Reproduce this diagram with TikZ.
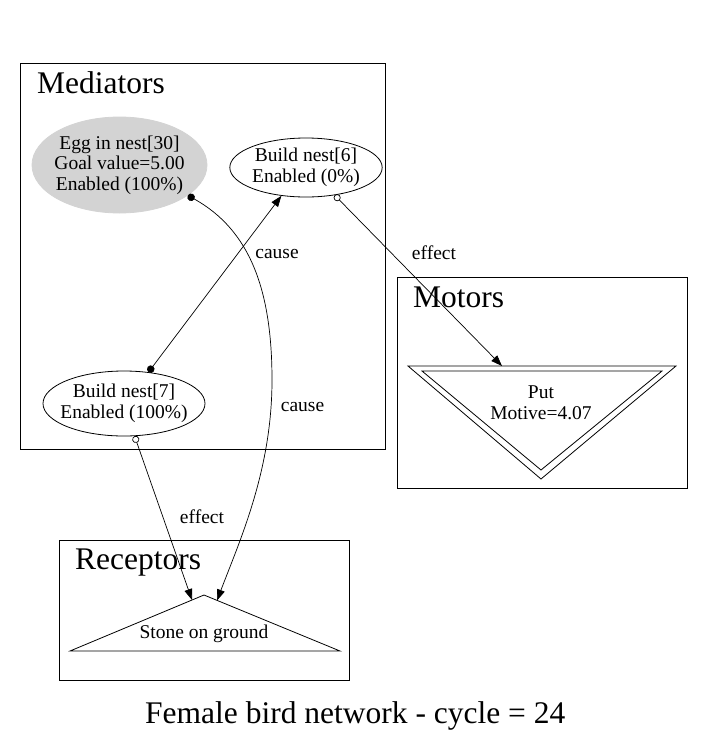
\documentclass[tikz,border=0pt]{standalone}
\usepackage{fontspec}
\setmainfont{Liberation Serif}
\usetikzlibrary{shapes.geometric,arrows.meta}

\definecolor{lightgrey}{RGB}{211,211,211}

\tikzset{
  state/.style={ellipse, draw, line width=0.8pt, inner sep=0pt, align=center,
    font=\fontsize{19.5}{20.5}\selectfont},
  edgetext/.style={anchor=base, font=\fontsize{19.5}{20.5}\selectfont},
  clustertitle/.style={anchor=base west, inner sep=0pt, font=\fontsize{31.5}{31.5}\selectfont},
  conn/.style={line width=0.7pt},
}

\begin{document}
\begin{tikzpicture}[x=1pt,y=-1pt]
  \useasboundingbox[fill=white] (0,0) rectangle (705,745);

  % Clusters
  \draw[line width=0.8pt] (20,63) rectangle (385,449); % mediators
  \draw[line width=0.8pt] (397,277) rectangle (687,488); % motors
  \draw[line width=0.8pt] (59,540) rectangle (349,680); % receptors
  \node[clustertitle] at (37,93) {Mediators};
  \node[clustertitle] at (413,307) {Motors};
  \node[clustertitle] at (75,569) {Receptors};

  % Mediators
  \node[state, fill=lightgrey, draw=lightgrey, inner xsep=-5pt, minimum width=175pt, minimum height=96pt]
    (egg) at (119.5,165) {Egg in nest[30]\\Goal value=5.00\\Enabled (100\%)};
  \node[state, minimum width=149pt, minimum height=59pt]
    (nest6) at (306,167.5) {Build nest[6]\\Enabled (0\%)};
  \node[state, inner xsep=-7pt, minimum width=162pt, minimum height=65pt]
    (nest7) at (124,403.5) {Build nest[7]\\Enabled (100\%)};

  % Motors
  \draw[line width=0.8pt] (408,366) -- (676,366) -- (541,479) -- cycle;
  \draw[line width=0.8pt] (422,371) -- (662,371) -- (541,470) -- cycle;
  \node[align=center, inner sep=0pt, font=\fontsize{19.5}{21}\selectfont]
    (put) at (541,403) {Put\\Motive=4.07};
  \coordinate (putT) at (502,366);

  % Receptors
  \draw[line width=0.8pt] (70,651) -- (204,595) -- (340,651) -- cycle;
  \node[anchor=base, inner sep=0pt, font=\fontsize{19.5}{20.5}\selectfont]
    (stone) at (204,638) {Stone on ground};
  \coordinate (stoneL) at (192,600);
  \coordinate (stoneR) at (217,600.5);

  % Links
  \draw[conn, {Circle[length=7.5pt]}-{Triangle[length=11pt,width=8pt]}]
    (egg.-24) .. controls (250,230) and (272,290) .. (272,380)
    .. controls (272,470) and (240,540) .. (stoneR);
  \draw[conn, {Circle[length=7.5pt]}-{Triangle[length=11pt,width=8pt]}]
    (nest7.52) -- (nest6.229.5);
  \draw[conn, {Circle[open,length=7pt]}-{Triangle[length=11pt,width=8pt]}]
    (nest6.-44.5) -- (putT);
  \draw[conn, {Circle[open,length=7pt]}-{Triangle[length=11pt,width=8pt]}]
    (nest7.-72) -- (stoneL);

  % Link labels
  \node[edgetext] at (277,258) {cause};
  \node[edgetext] at (302.5,411) {cause};
  \node[edgetext] at (434,259) {effect};
  \node[edgetext] at (202,523) {effect};

  % Caption
  \node[anchor=base west, inner sep=0pt, font=\fontsize{31.5}{31.5}\selectfont]
    at (145,723) {Female bird network - cycle = 24};
\end{tikzpicture}
\end{document}
